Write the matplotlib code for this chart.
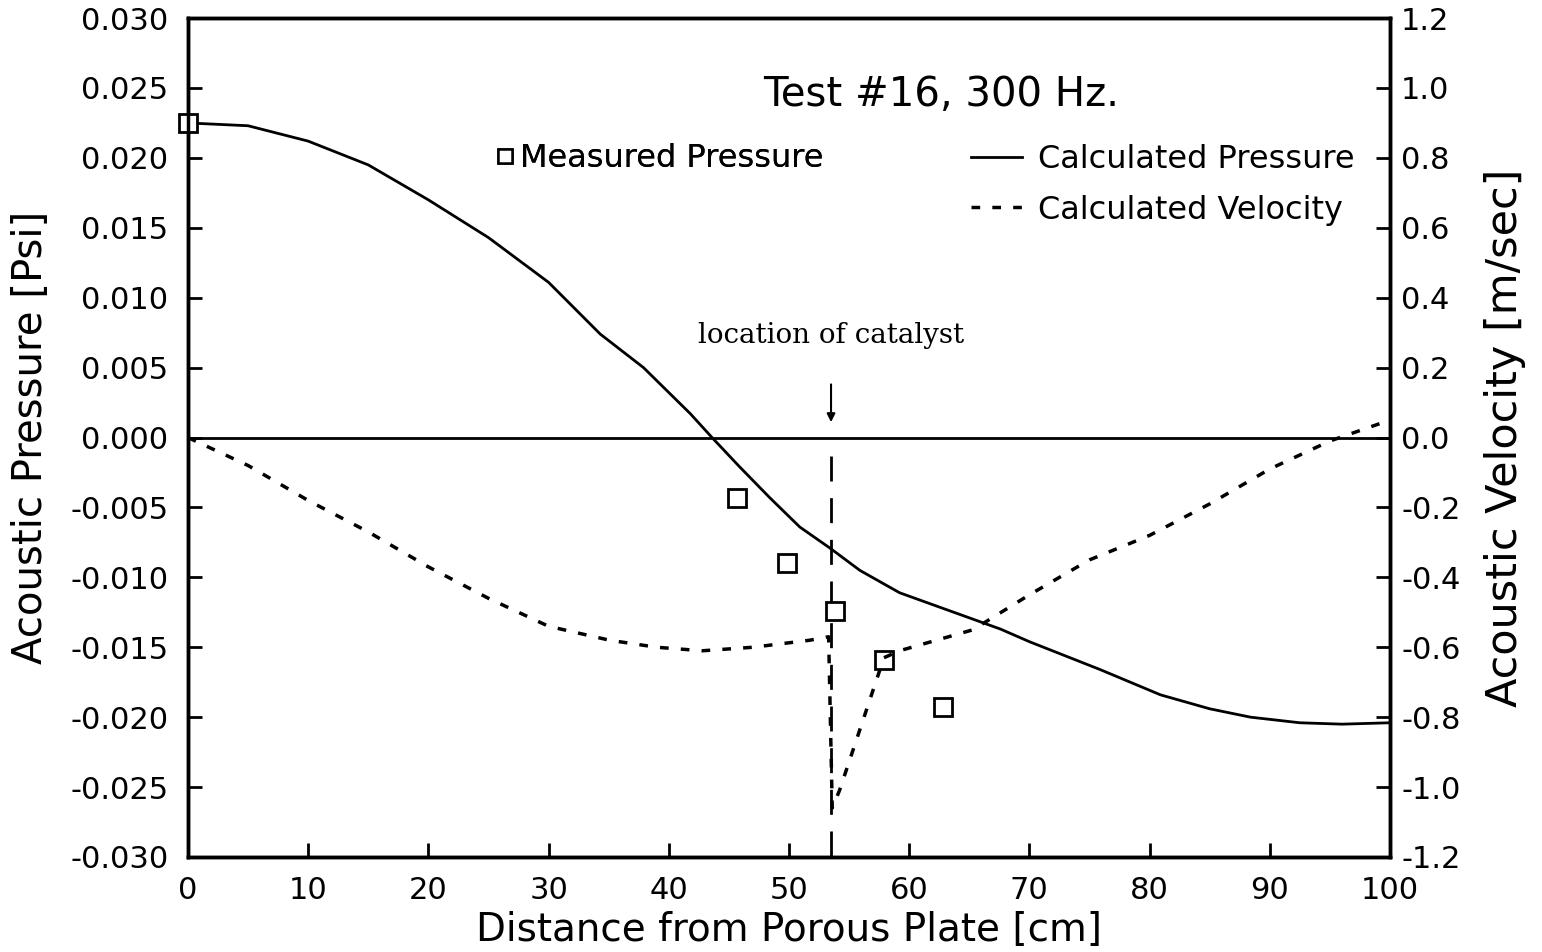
import matplotlib
matplotlib.use("Agg")
import matplotlib.pyplot as plt
from matplotlib.lines import Line2D

# calculated acoustic pressure [psi] vs distance [cm]
calc_x = [0, 5, 10, 15, 17.6, 20, 25, 30, 34.3, 37.9, 41.8, 43.6, 45.9, 48.4, 50.9, 53.4,
          55.9, 59.2, 63.4, 67.6, 70, 75.9, 80.9, 85, 88.4, 92.5, 96, 100]
calc_p = [0.0225, 0.0223, 0.0212, 0.0195, 0.0182, 0.0170, 0.0143, 0.0111, 0.0074, 0.0050,
          0.0017, 0.0, -0.0021, -0.0043, -0.0064, -0.0079, -0.0095, -0.0111, -0.0124,
          -0.0137, -0.0146, -0.0166, -0.0184, -0.0194, -0.0200, -0.0204, -0.0205, -0.0204]

# calculated acoustic velocity [m/sec]
vel_x = [0, 5, 10, 15, 20, 25, 30, 35.1, 39, 42.8, 47, 51.7, 53.3, 53.6, 54.2, 57.9,
         59.2, 65.3, 70, 75, 80, 85, 90, 95, 100]
vel_v = [0.0, -0.08, -0.18, -0.27, -0.37, -0.46, -0.54, -0.58, -0.60, -0.61, -0.60, -0.58,
         -0.57, -1.06, -1.01, -0.63, -0.61, -0.55, -0.45, -0.35, -0.28, -0.19, -0.09, -0.01, 0.05]

# measured pressure
meas_x = [0, 45.7, 49.8, 53.8, 57.9, 62.8]
meas_p = [0.0225, -0.0043, -0.0090, -0.0124, -0.0159, -0.0193]

catalyst_x = 53.5

plt.rcParams['font.family'] = ['DejaVu Sans']
fs = 21

fig = plt.figure(figsize=(15.42, 9.52), dpi=100)
ax = fig.add_axes([0.1219, 0.0998, 0.7795, 0.8812])
ax2 = ax.twinx()

ax.plot(calc_x, calc_p, color='black', lw=2)
ax.plot(meas_x, meas_p, linestyle='none', marker='s', markersize=13,
        markerfacecolor='white', markeredgecolor='black', markeredgewidth=2, zorder=5, clip_on=False)
ax.axhline(0, color='black', lw=2)
ax2.plot(vel_x, vel_v, color='black', lw=2.5, linestyle=(0, (2.5, 3.5)))

# catalyst marker
ax.plot([catalyst_x, catalyst_x], [-0.0013, -0.030], color='black', lw=2, linestyle=(0, (9, 6)))
ax.annotate('', xy=(catalyst_x, 0.0009), xytext=(catalyst_x, 0.0040),
            arrowprops=dict(arrowstyle='-|>', color='black', lw=1.5, mutation_scale=12))
ax.text(catalyst_x, 0.0073, 'location of catalyst', ha='center', va='center',
        fontsize=20, family='DejaVu Serif')

ax.text(0.6265, 0.908, 'Test #16, 300 Hz.', transform=ax.transAxes, ha='center', va='center',
        fontsize=29)

ax.set_xlim(0, 100)
ax.set_ylim(-0.030, 0.030)
ax2.set_ylim(-1.2, 1.2)
ax.set_xticks(range(0, 101, 10))
ax.set_yticks([i * 0.005 for i in range(-6, 7)])
ax.set_yticklabels([f'{i * 0.005:.3f}' for i in range(-6, 7)])
ax2.set_yticks([i * 0.2 for i in range(-6, 7)])
ax2.set_yticklabels([f'{i * 0.2:.1f}' if abs(i) > 0 else '0.0' for i in range(-6, 7)])

for a in (ax, ax2):
    a.tick_params(direction='in', length=10, width=2, labelsize=fs + 1)
    for s in a.spines.values():
        s.set_linewidth(2.5)
ax.tick_params(axis='y', pad=14)
ax.tick_params(axis='x', pad=14)
ax2.tick_params(axis='y', pad=8)

ax.set_xlabel('Distance from Porous Plate [cm]', fontsize=28)
ax.set_ylabel('Acoustic Pressure [Psi]', fontsize=29)
ax2.set_ylabel('Acoustic Velocity [m/sec]', fontsize=31)
ax.xaxis.set_label_coords(0.5, -0.087)
ax.xaxis.label.set_va('center')
ax.yaxis.set_label_coords(-0.131, 0.5)
ax.yaxis.label.set_va('center')
ax2.yaxis.set_label_coords(1.096, 0.5)
ax2.yaxis.label.set_va('center')

h1 = [Line2D([], [], linestyle='none', marker='s', markersize=10, markerfacecolor='white',
             markeredgecolor='black', markeredgewidth=1.8)]
leg1 = ax.legend(h1, ['Measured Pressure'], loc='center left', bbox_to_anchor=(0.244, 0.833),
                 frameon=False, fontsize=fs + 2, handlelength=0.5, handletextpad=0.2, borderpad=0)
ax.add_artist(leg1)
h2 = [Line2D([], [], color='black', lw=2),
      Line2D([], [], color='black', lw=2.5, linestyle=(0, (2.5, 3.5)))]
ax2.legend(h2, ['Calculated Pressure', 'Calculated Velocity'], loc='center left',
           bbox_to_anchor=(0.638, 0.801), frameon=False, fontsize=fs + 2, handlelength=1.6,
           handletextpad=0.5, borderpad=0, labelspacing=0.6)

fig.savefig('out.png', dpi=100)
